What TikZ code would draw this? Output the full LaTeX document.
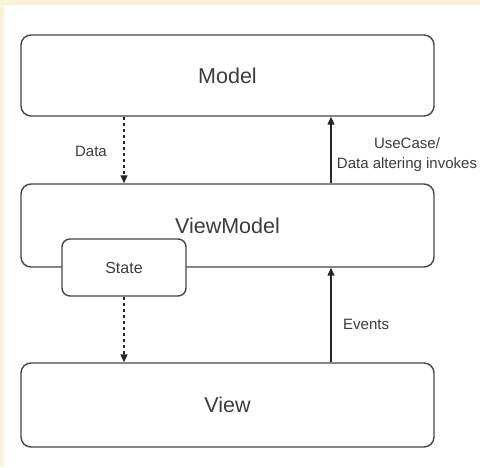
\documentclass[tikz,border=0pt]{standalone}
\usepackage{fontspec}
\setmainfont{Liberation Sans}
\usetikzlibrary{arrows.meta}
\definecolor{bgbeige}{RGB}{252,242,220}
\definecolor{linegray}{RGB}{70,70,70}
\definecolor{textgray}{RGB}{60,60,60}
\begin{document}
\begin{tikzpicture}[x=1pt,y=-1pt,
  bigbox/.style={draw=linegray,line width=1.4pt,fill=white,rounded corners=10pt,
    minimum width=413pt,inner sep=0pt,text=textgray,font=\fontsize{21.5}{26}\selectfont},
  smallbox/.style={draw=linegray,line width=1.4pt,fill=white,rounded corners=8pt,
    minimum width=124pt,minimum height=57pt,inner sep=0pt,text=textgray,font=\fontsize{16}{19}\selectfont},
  lbl/.style={text=textgray,inner sep=0pt,font=\fontsize{15}{20}\selectfont},
  conn/.style={draw=black!85,line width=1.2pt,-{Triangle[length=8pt,width=7pt]}},
  dconn/.style={conn,dash pattern=on 3pt off 3pt}]
\useasboundingbox (0,0) rectangle (480,467);
\fill[bgbeige] (0,0) rectangle (480,467);
\fill[white] (4,5) rectangle (480,467);
\node[bigbox,minimum height=81pt] (model) at (227.5,75.5) {Model};
\node[bigbox,minimum height=83pt] (vm) at (227.5,225.5) {ViewModel};
\node[smallbox] (state) at (124,267.5) {State};
\node[bigbox,minimum height=84pt] (view) at (227.5,405) {View};
\coordinate (ax) at (331,0);
\draw[dconn] (model.south -| state.center) -- (vm.north -| state.center);
\draw[dconn] (state.south) -- (view.north -| state.center);
\draw[conn] (vm.north -| ax) -- (model.south -| ax);
\draw[conn] (view.north -| ax) -- (vm.south -| ax);
\node[lbl] (ldata) at (91,151) {Data};
\node[lbl,align=center] (luse) at (407,155) {UseCase/\\Data altering invokes};
\node[lbl,anchor=west] (levents) at (343,324) {Events};
\end{tikzpicture}
\end{document}
